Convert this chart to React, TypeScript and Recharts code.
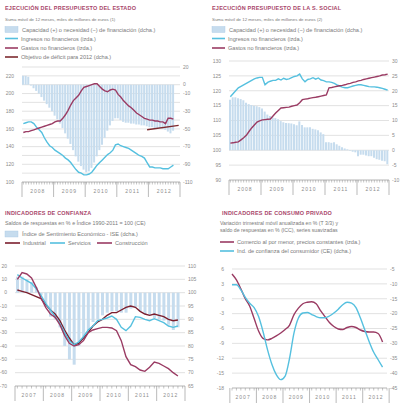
import { Bar, CartesianGrid, ComposedChart, Line, XAxis, YAxis } from "recharts";

const FONT = "'Liberation Sans', Arial, sans-serif";
const TITLE = "#a8456a";
const TEXT = "#7a7a7a";
const TICK = "#8c8c8c";
const GRID = "#cfcfcf";
const CYAN = "#55c0df";
const MAROON = "#9a3b63";
const DARK = "#7b1f2e";
const TARGET = "#7d2a2f";
const BAR = "#c6dcee";

const yearsFrom2008 = ["2008", "2009", "2010", "2011", "2012"];
const yearsFrom2007 = ["2007", "2008", "2009", "2010", "2011", "2012"];

// Estado: monthly, Jan 2008 onwards (bn EUR, 12-month rolling sum)
const estadoCapacidad = [
  10, 10, 9, -1, -4, -7, -10, -14, -18, -22, -26, -30,
  -35, -39, -44, -49, -55, -61, -67, -74, -81, -87, -92, -96,
  -99, -98, -94, -88, -81, -74, -68, -60, -52, -46, -41, -38,
  -38, -40, -42, -43, -43, -44, -44, -45, -45, -46, -46, -47,
  -48, -48, -49, -49, -49, -50, -51, -53, -55, -52,
];
const estadoIngresos = [
  166, 167, 168, 168, 166, 162, 159, 156, 150, 145, 141, 139,
  136, 134, 132, 130, 127, 125, 122, 118, 114, 111, 110, 108,
  108, 109, 111, 115, 119, 122, 125, 128, 131, 133, 136, 142,
  143, 141, 140, 139, 138, 136, 134, 132, 130, 129, 127, 122,
  117, 117, 116, 116, 116, 115, 115, 115, 117, 119,
];
const estadoGastos = [
  156, 157, 157, 158, 159, 160, 161, 162, 163, 164, 165, 166,
  168, 169, 169, 172, 176, 181, 187, 192, 195, 198, 203, 207,
  208, 209, 210, 211, 211, 208, 205, 203, 202, 204, 205, 204,
  199, 196, 192, 189, 186, 184, 181, 178, 176, 174, 172, 171,
  170, 170, 169, 169, 168, 168, 166, 172, 172, 171,
];
const objetivoMeses = [47, 59];
const objetivoValores = [-51, -46];

// Seguridad Social: monthly, Jan 2008 onwards
const ssCapacidad = [
  17, 17.8, 17.8, 17.5, 17.2, 16.8, 16, 15.5, 15.2, 15, 14.8, 14.5,
  14, 13, 12, 11.5, 11, 10.8, 10.4, 9.8, 9.4, 9.2, 9.1, 9,
  8.7, 8.4, 9.7, 8.5, 7.7, 7.7, 7.7, 7.2, 7, 6.7, 6, 5.4,
  2.7, 2.7, 2.5, 2.7, 2, 1.5, 1, 0.6, 0.3, -0.2, -0.5, -0.7,
  -2, -1.5, -1.5, -1.8, -2, -2, -2.5, -3, -3.2, -3.5, -3.7, -4.7,
];
const ssIngresos = [
  118, 119, 120, 121, 121.5, 122, 122.5, 123, 123.5, 124, 124.3, 124.5,
  124.5, 122, 122.8, 123.2, 123.5, 123.5, 124, 123.6, 124.2, 123.8, 124, 124.4,
  124.8, 125, 125.6, 124, 123, 123.8, 124, 124.4, 123.9, 124.3, 123.6, 123.4,
  123, 123, 122.8, 122.5, 122, 121.6, 121.2, 121, 121, 121.3, 121.6, 121.8,
  122, 122, 121.8, 121.6, 121.4, 121.3, 121.3, 121.2, 121, 120.8, 120.5, 120.2,
];
const ssGastos = [
  102.4, 102.5, 102.7, 102.8, 103.5, 104.2, 105, 106.3, 107.5, 108.5, 109.5, 109.9,
  110.2, 110.3, 110.4, 110.5, 111.5, 112.5, 113.4, 114.2, 114.3, 114.4, 114.5, 114.8,
  115, 115.2, 116, 117, 117.2, 117.3, 117.5, 117.7, 117.8, 118, 118.2, 118.4,
  118.6, 121, 121.1, 121.3, 121.5, 121.7, 121.8, 122, 122.3, 122.5, 122.8, 123,
  123.3, 123.5, 123.8, 124, 124.2, 124.4, 124.6, 124.8, 125, 125.3, 125.4, 125.6,
];

// Confianza: bimonthly, 2007 onwards
const iseIndice = [
  106, 106, 105, 104, 102, 99, 95, 91, 90, 87, 80, 75,
  73, 80, 83, 86, 89, 90, 91.5, 92.5, 93, 93, 92.5, 92.5,
  94, 94.5, 93, 92, 91.5, 90.5, 90, 89.5, 88, 86, 87,
];
const confIndustrial = [
  2, 1, 0, -1.5, -3, -4.5, -9, -13, -16, -21, -28, -34,
  -39, -38, -34, -30, -25, -22, -20, -17, -15, -15, -13, -11,
  -10, -11, -14, -16, -17, -16, -17, -18, -20, -21, -20.5,
];
const confServicios = [
  13.5, 11, 9, 7, 3, -2, -8, -13, -18, -23, -30, -36,
  -39, -37, -33, -28, -25, -21, -20, -19, -17.5, -20, -26, -28.5,
  -25, -18, -18.5, -20, -21, -19.5, -21, -22.5, -25, -26, -25,
];
const confConstruccion = [
  10, 15, 14, 11, 4, -4, -11, -16, -18.5, -24, -32, -38,
  -40, -39, -36, -30, -28, -27, -26, -26, -26.5, -28.5, -36, -48,
  -54, -55.5, -58, -59, -56, -52, -53, -55, -57, -60, -62.5,
];

// Consumo privado: bimonthly, 2007 onwards
const comercioMenor = [
  5, 3.8, 2, 0, -1.5, -4, -6.5, -8, -8.3, -8, -7.5, -6.9,
  -6.2, -5.3, -3.2, -1.9, -1, -0.7, -0.6, -1, -2.4, -3.6, -4.8, -5.6,
  -6.1, -6.2, -5.8, -5.6, -5.8, -6.3, -6.6, -6.7, -6.7, -7, -8.7,
];
const confianzaConsumidor = [
  -10.3, -10.3, -12, -14.5, -16.5, -18, -21, -26, -32, -37, -40.5, -42.2,
  -41, -35, -26.5, -21.5, -19.8, -19.6, -20.3, -21, -21.4, -21.4, -20.8, -19.8,
  -18.5, -17, -16.2, -16.5, -18, -21.5, -25.5, -29.5, -33, -35.5, -38,
];

const estadoLeftTicks = [100, 110, 120, 130, 140, 150, 160, 170, 180, 190, 200, 210, 220, 230];
const estadoRightTicks = [-110, -90, -70, -50, -30, -10, 0, 20];
const ssLeftTicks = [90, 95, 100, 105, 110, 115, 120, 125, 130];
const ssRightTicks = [-10, -5, 0, 5, 10, 15, 20, 25, 30];
const confLeftTicks = [-70, -60, -50, -40, -30, -20, -10, 0, 10, 20];
const confRightTicks = [65, 70, 75, 80, 85, 90, 95, 100, 105, 110];
const consumoLeftTicks = [-18, -15, -12, -9, -6, -3, 0, 3, 6];
const consumoRightTicks = [-45, -40, -35, -30, -25, -20, -15, -10, -5];

const estadoRows = Array.from({ length: 60 }, (_, m) => {
  const o = objetivoMeses.indexOf(m);
  return {
    m,
    cap: estadoCapacidad[m] ?? null,
    ing: estadoIngresos[m] ?? null,
    gas: estadoGastos[m] ?? null,
    obj: o >= 0 ? objetivoValores[o] : null,
  };
});

const ssRows = Array.from({ length: 60 }, (_, m) => ({
  m,
  cap: ssCapacidad[m] ?? null,
  ing: ssIngresos[m] ?? null,
  gas: ssGastos[m] ?? null,
}));

const confRows = Array.from({ length: 36 }, (_, i) => {
  const v = iseIndice[i];
  return {
    i,
    ise: v == null ? null : [Math.min(100, v), Math.max(100, v)],
    ind: confIndustrial[i] ?? null,
    ser: confServicios[i] ?? null,
    con: confConstruccion[i] ?? null,
  };
});

const consumoRows = Array.from({ length: 36 }, (_, i) => ({
  i,
  com: comercioMenor[i] ?? null,
  icc: confianzaConsumidor[i] ?? null,
}));

type TickCfg = { band: number; perYear: number; total: number; years: string[] };

function yearTick(cfg: TickCfg) {
  return (p: any) => {
    const { x, y } = p;
    const idx = Number(p.payload.value);
    const pos = idx % cfg.perYear;
    const half = cfg.band / 2;
    return (
      <g>
        <line x1={x} x2={x} y1={y} y2={y + 2.5} stroke={TICK} strokeWidth={0.5} />
        {pos === 0 && (
          <line x1={x - half} x2={x - half} y1={y} y2={y + 15} stroke={TICK} strokeWidth={0.6} />
        )}
        {idx === cfg.total - 1 && (
          <line x1={x + half} x2={x + half} y1={y} y2={y + 15} stroke={TICK} strokeWidth={0.6} />
        )}
        {pos === cfg.perYear / 2 && (
          <text x={x - half} y={y + 11} textAnchor="middle" fontSize={5} fill={TICK} letterSpacing={1} fontFamily={FONT}>
            {cfg.years[Math.floor(idx / cfg.perYear)]}
          </text>
        )}
      </g>
    );
  };
}

const axisText = { fontSize: 5, fill: TICK, fontFamily: FONT };

function EstadoChart() {
  return (
    <div style={{ position: "absolute", left: 0, top: 60 }}>
      <ComposedChart width={207} height={140} data={estadoRows} margin={{ top: 7, right: 0, bottom: 0, left: 0 }} barCategoryGap={0}>
        <CartesianGrid vertical={false} yAxisId="left" stroke={GRID} strokeWidth={0.6} />
        <XAxis
          dataKey="m"
          height={18}
          interval={0}
          tickSize={0}
          tickMargin={0}
          tickLine={false}
          axisLine={{ stroke: "#aaa", strokeWidth: 0.6 }}
          tick={yearTick({ band: 158 / 60, perYear: 12, total: 60, years: yearsFrom2008 })}
        />
        <YAxis
          yAxisId="left"
          width={22}
          domain={[100, 230]}
          ticks={estadoLeftTicks}
          interval={0}
          axisLine={false}
          tickLine={false}
          tick={(p: any) =>
            p.payload.value % 20 === 0 && p.payload.value <= 220 ? (
              <text x={p.x} y={p.y} dy={1.8} textAnchor="end" {...axisText}>
                {p.payload.value}
              </text>
            ) : (
              <g />
            )
          }
        />
        <YAxis
          yAxisId="right"
          orientation="right"
          width={27}
          domain={[-110, 20]}
          ticks={estadoRightTicks}
          interval={0}
          axisLine={false}
          tickLine={false}
          tickSize={3}
          tickMargin={0}
          tick={axisText}
        />
        <Bar yAxisId="right" dataKey="cap" fill={BAR} barSize={2} isAnimationActive={false} />
        <Line yAxisId="left" dataKey="ing" stroke={CYAN} strokeWidth={1.4} dot={false} isAnimationActive={false} />
        <Line yAxisId="left" dataKey="gas" stroke={MAROON} strokeWidth={1.4} dot={false} isAnimationActive={false} />
        <Line yAxisId="right" dataKey="obj" stroke={TARGET} strokeWidth={1.4} dot={false} connectNulls isAnimationActive={false} />
      </ComposedChart>
    </div>
  );
}

function SeguridadSocialChart() {
  return (
    <div style={{ position: "absolute", left: 207, top: 54 }}>
      <ComposedChart width={207} height={146} data={ssRows} margin={{ top: 7, right: 0, bottom: 0, left: 0 }} barCategoryGap={0}>
        <CartesianGrid vertical={false} yAxisId="left" stroke={GRID} strokeWidth={0.6} />
        <XAxis
          dataKey="m"
          height={20}
          interval={0}
          tickSize={0}
          tickMargin={0}
          tickLine={false}
          axisLine={{ stroke: "#aaa", strokeWidth: 0.6 }}
          tick={yearTick({ band: 160 / 60, perYear: 12, total: 60, years: yearsFrom2008 })}
        />
        <YAxis yAxisId="left" width={22} domain={[90, 130]} ticks={ssLeftTicks} interval={0} axisLine={false} tickLine={false} tick={axisText} />
        <YAxis
          yAxisId="right"
          orientation="right"
          width={25}
          domain={[-10, 30]}
          ticks={ssRightTicks}
          interval={0}
          axisLine={false}
          tickLine={false}
          tickSize={3}
          tickMargin={0}
          tick={axisText}
        />
        <Bar yAxisId="right" dataKey="cap" fill={BAR} barSize={2} isAnimationActive={false} />
        <Line yAxisId="left" dataKey="ing" stroke={CYAN} strokeWidth={1.4} dot={false} isAnimationActive={false} />
        <Line yAxisId="left" dataKey="gas" stroke={MAROON} strokeWidth={1.4} dot={false} isAnimationActive={false} />
      </ComposedChart>
    </div>
  );
}

function ConfianzaChart() {
  return (
    <div style={{ position: "absolute", left: 0, top: 259 }}>
      <ComposedChart width={207} height={145} data={confRows} margin={{ top: 7, right: 0, bottom: 0, left: 0 }} barCategoryGap={0}>
        <CartesianGrid vertical={false} yAxisId="left" stroke={GRID} strokeWidth={0.6} />
        <XAxis
          dataKey="i"
          height={18}
          interval={0}
          tickSize={0}
          tickMargin={0}
          tickLine={false}
          axisLine={{ stroke: "#aaa", strokeWidth: 0.6 }}
          tick={yearTick({ band: 170 / 36, perYear: 6, total: 36, years: yearsFrom2007 })}
        />
        <YAxis yAxisId="left" width={15} domain={[-70, 20]} ticks={confLeftTicks} interval={0} axisLine={false} tickLine={false} tick={axisText} />
        <YAxis
          yAxisId="right"
          orientation="right"
          width={22}
          domain={[65, 110]}
          ticks={confRightTicks}
          interval={0}
          axisLine={false}
          tickLine={false}
          tickSize={3}
          tickMargin={0}
          tick={axisText}
        />
        <Bar yAxisId="right" dataKey="ise" fill={BAR} barSize={3} isAnimationActive={false} />
        <Line yAxisId="left" dataKey="ind" stroke={DARK} strokeWidth={1.4} dot={false} isAnimationActive={false} />
        <Line yAxisId="left" dataKey="ser" stroke={CYAN} strokeWidth={1.4} dot={false} isAnimationActive={false} />
        <Line yAxisId="left" dataKey="con" stroke={MAROON} strokeWidth={1.4} dot={false} isAnimationActive={false} />
      </ComposedChart>
    </div>
  );
}

function ConsumoChart() {
  return (
    <div style={{ position: "absolute", left: 207, top: 262 }}>
      <ComposedChart width={207} height={142} data={consumoRows} margin={{ top: 7, right: 0, bottom: 0, left: 0 }}>
        <CartesianGrid vertical={false} yAxisId="left" stroke={GRID} strokeWidth={0.6} />
        <XAxis
          dataKey="i"
          height={16}
          interval={0}
          tickSize={0}
          tickMargin={0}
          tickLine={false}
          axisLine={{ stroke: "#aaa", strokeWidth: 0.6 }}
          tick={yearTick({ band: 155 / 36, perYear: 6, total: 36, years: yearsFrom2007 })}
        />
        <YAxis yAxisId="left" width={25} domain={[-18, 6]} ticks={consumoLeftTicks} interval={0} axisLine={false} tickLine={false} tick={axisText} />
        <YAxis
          yAxisId="right"
          orientation="right"
          width={27}
          domain={[-45, -5]}
          ticks={consumoRightTicks}
          interval={0}
          axisLine={false}
          tickLine={false}
          tickSize={3}
          tickMargin={0}
          tick={axisText}
        />
        <Line yAxisId="left" type="monotone" dataKey="com" stroke={MAROON} strokeWidth={1.4} dot={false} isAnimationActive={false} />
        <Line yAxisId="right" type="monotone" dataKey="icc" stroke={CYAN} strokeWidth={1.4} dot={false} isAnimationActive={false} />
      </ComposedChart>
    </div>
  );
}

function Title({ x, y, children }: { x: number; y: number; children: string }) {
  return (
    <text x={x} y={y} dominantBaseline="central" fontSize={5.5} fontWeight="bold" fill={TITLE} letterSpacing={0.2}>
      {children}
    </text>
  );
}

function Note({ x, y, size, children }: { x: number; y: number; size: number; children: string }) {
  return (
    <text x={x} y={y} dominantBaseline="central" fontSize={size} fill={TEXT}>
      {children}
    </text>
  );
}

function BoxKey({ x, y, label }: { x: number; y: number; label: string }) {
  return (
    <g>
      <rect x={x} y={y - 3} width={13} height={6} fill={BAR} stroke="#a8c8e3" strokeWidth={0.4} />
      <Note x={x + 17} y={y} size={5.6}>{label}</Note>
    </g>
  );
}

function LineKey({ x, y, w = 13, color, label }: { x: number; y: number; w?: number; color: string; label: string }) {
  return (
    <g>
      <line x1={x} x2={x + w} y1={y} y2={y} stroke={color} strokeWidth={1.6} />
      <Note x={x + w + 3} y={y} size={5.6}>{label}</Note>
    </g>
  );
}

function Captions() {
  return (
    <svg width={414} height={404} style={{ position: "absolute", left: 0, top: 0 }} fontFamily={FONT}>
      <Title x={5} y={8}>EJECUCIÓN DEL PRESUPUESTO DEL ESTADO</Title>
      <Note x={5} y={19} size={4.4}>Suma móvil de 12 meses, miles de millones de euros (1)</Note>
      <BoxKey x={5} y={29.5} label="Capacidad (+) o necesidad (−) de financiación (dcha.)" />
      <LineKey x={5} y={38.5} color={CYAN} label="Ingresos no financieros (izda.)" />
      <LineKey x={5} y={48} color={MAROON} label="Gastos no financieros (izda.)" />
      <LineKey x={5} y={57} color={TARGET} label="Objetivo de déficit para 2012 (dcha.)" />

      <Title x={212} y={8}>EJECUCIÓN PRESUPUESTO DE LA S. SOCIAL</Title>
      <Note x={212} y={19} size={4.4}>Suma móvil de 12 meses, miles de millones de euros (2)</Note>
      <BoxKey x={212} y={29.5} label="Capacidad (+) o necesidad (−) de financiación (dcha.)" />
      <LineKey x={212} y={38.5} color={CYAN} label="Ingresos no financieros (izda.)" />
      <LineKey x={212} y={48} color={MAROON} label="Gastos no financieros (izda.)" />

      <Title x={5} y={213}>INDICADORES DE CONFIANZA</Title>
      <Note x={5} y={223} size={5.4}>Saldos de respuestas en % e Índice 1990-2011 = 100 (CE)</Note>
      <BoxKey x={5} y={234} label="Índice de Sentimiento Económico - ISE (dcha.)" />
      <LineKey x={5} y={243} w={15} color={DARK} label="Industrial" />
      <LineKey x={50} y={243} w={15} color={CYAN} label="Servicios" />
      <LineKey x={97} y={243} w={15} color={MAROON} label="Construcción" />

      <Title x={222} y={213}>INDICADORES DE CONSUMO PRIVADO</Title>
      <Note x={220} y={223} size={5.2}>Variación trimestral móvil anualizada en % (T 3/3) y</Note>
      <Note x={220} y={230} size={5.2}>saldo de respuestas en % (ICC), series suavizadas</Note>
      <LineKey x={220} y={242} w={14} color={MAROON} label="Comercio al por menor, precios constantes (izda.)" />
      <LineKey x={220} y={251} w={14} color={CYAN} label="Ind. de confianza del consumidor (CE) (dcha.)" />
    </svg>
  );
}

export default function App() {
  return (
    <div style={{ position: "absolute", left: 0, top: 0, width: 414, height: 404, background: "#fff", overflow: "hidden", fontFamily: FONT }}>
      <Captions />
      <EstadoChart />
      <SeguridadSocialChart />
      <ConfianzaChart />
      <ConsumoChart />
    </div>
  );
}
